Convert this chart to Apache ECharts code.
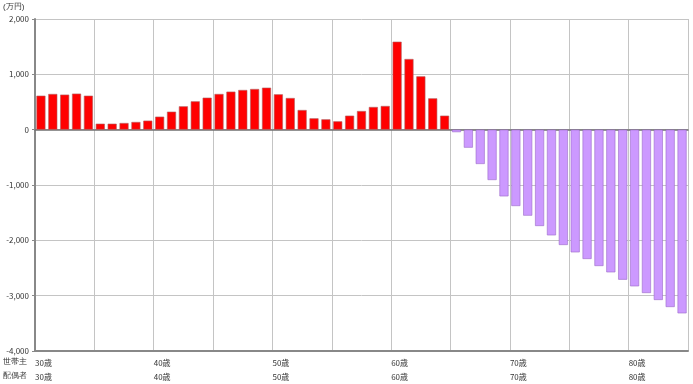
<!DOCTYPE html>
<html><head><meta charset="utf-8">
<script src="https://cdn.jsdelivr.net/npm/echarts@6/dist/echarts.min.js"></script>
<style>html,body{margin:0;padding:0;background:#fff}#c{width:693px;height:384px}</style>
</head><body><div id="c"></div>
<script>
var ages = [];
for (var a = 30; a <= 84; a++) ages.push(a);
var values = [614, 645, 633, 651, 614, 108, 108, 120, 139, 163,
  235, 325, 422, 512, 578, 645, 687, 717, 735, 759,
  639, 572, 355, 205, 187, 151, 253, 337, 410, 428,
  1590, 1277, 964, 566, 253, -45, -325, -620, -910, -1205,
  -1380, -1554, -1741, -1910, -2084, -2217, -2337, -2464, -2578, -2711,
  -2831, -2952, -3078, -3205, -3319];
var yTicks = {min: -4000, max: 2000, step: 1000};
var unitLabel = '(万円)';
var rowLabels = ['世帯主', '配偶者'];
var FONT = '"Noto Sans CJK JP", "DejaVu Sans", sans-serif';

var barData = values.map(function (v) {
  return {
    value: v,
    itemStyle: v >= 0
      ? {color: '#ff0000', borderColor: '#b06060', borderWidth: 0.6}
      : {color: '#cc99ff', borderColor: '#9a6ac8', borderWidth: 0.6}
  };
});

var chart = echarts.init(document.getElementById('c'));
chart.setOption({
  animation: false,
  grid: {left: 35, right: 5, top: 19, bottom: 33},
  xAxis: [{
    type: 'category', data: ages, position: 'bottom',
    axisLine: {onZero: true, lineStyle: {color: '#707070', width: 1.5}},
    axisTick: {show: false}, axisLabel: {show: false}, splitLine: {show: false}
  }, {
    type: 'value', min: 30, max: 85, interval: 5, position: 'bottom',
    axisLine: {onZero: false, show: true, lineStyle: {color: '#888', width: 2}},
    axisTick: {show: false},
    splitLine: {show: true, lineStyle: {color: '#c4c4c4', width: 1}},
    axisLabel: {
      show: true, align: 'left', margin: 5, fontSize: 8, lineHeight: 14,
      color: '#333', fontFamily: FONT,
      formatter: function (v) { return (v % 10 === 0 && v < 85) ? v + '歳\n' + v + '歳' : ''; }
    }
  }],
  yAxis: {
    type: 'value', min: yTicks.min, max: yTicks.max, interval: yTicks.step,
    axisLine: {show: true, lineStyle: {color: '#888', width: 2}},
    axisTick: {show: true, length: 3, lineStyle: {color: '#888'}},
    splitLine: {show: true, lineStyle: {color: '#c4c4c4', width: 1}},
    axisLabel: {
      fontSize: 8, color: '#333', margin: 6, fontFamily: FONT,
      formatter: function (v) { return v.toLocaleString('en-US'); }
    }
  },
  series: [{
    type: 'bar', xAxisIndex: 0, data: barData, barWidth: '76%'
  }],
  graphic: [
    {type: 'text', left: 3, top: 3, style: {text: unitLabel, fontSize: 8, fill: '#333', font: '8px ' + FONT}},
    {type: 'text', left: 3, top: 355, style: {text: rowLabels.join('\n'), fontSize: 8, lineHeight: 14, fill: '#333', font: '8px ' + FONT}}
  ]
});
</script></body></html>
